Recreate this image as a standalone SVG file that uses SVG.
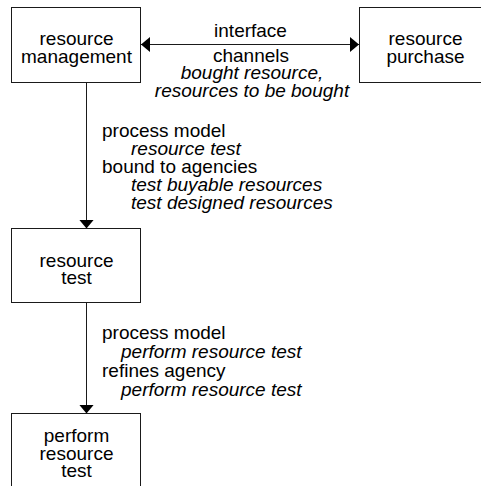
<svg xmlns="http://www.w3.org/2000/svg" width="481" height="486" viewBox="0 0 481 486">
  <style>
    .box { fill: #fff; stroke: #1a1a1a; stroke-width: 1; }
    .line { fill: none; stroke: #1a1a1a; stroke-width: 1; }
    text { font-family: "Liberation Sans", Arial, sans-serif; font-size: 19px; fill: #000; }
    .c { text-anchor: middle; }
    .i { font-style: italic; }
  </style>
  <defs>
    <marker id="arrow" viewBox="0 0 9 15" refX="9" refY="7.5" markerWidth="9" markerHeight="15" markerUnits="userSpaceOnUse" orient="auto-start-reverse">
      <path d="M0,0 L9,7.5 L0,15 Z" fill="#000"/>
    </marker>
  </defs>

  <rect width="481" height="486" fill="#fff"/>

  <g id="connectors">
    <line class="line" x1="141" y1="44.5" x2="359" y2="44.5" marker-start="url(#arrow)" marker-end="url(#arrow)"/>
    <line class="line" x1="86.5" y1="82.5" x2="86.5" y2="228.5" marker-end="url(#arrow)"/>
    <line class="line" x1="86.5" y1="302.5" x2="86.5" y2="413.5" marker-end="url(#arrow)"/>

    <g id="label-interface">
      <text class="c" x="250.5" y="37">interface</text>
      <text class="c" x="251" y="62">channels</text>
      <text class="c i" x="252" y="79">bought resource,</text>
      <text class="c i" x="252" y="97">resources to be bought</text>
    </g>
    <g id="label-test">
      <text x="102" y="137">process model</text>
      <text class="i" x="131" y="155">resource test</text>
      <text x="102" y="173">bound to agencies</text>
      <text class="i" x="131" y="191">test buyable resources</text>
      <text class="i" x="131" y="209">test designed resources</text>
    </g>
    <g id="label-perform">
      <text x="102" y="339">process model</text>
      <text class="i" x="121" y="358">perform resource test</text>
      <text x="102" y="377">refines agency</text>
      <text class="i" x="121" y="396">perform resource test</text>
    </g>
  </g>

  <g id="resource-management">
    <rect class="box" x="11.5" y="7.5" width="129" height="75"/>
    <text class="c" x="76.5" y="45">resource</text>
    <text class="c" x="76.5" y="63">management</text>
  </g>

  <g id="resource-purchase">
    <rect class="box" x="359.5" y="7.5" width="140" height="75"/>
    <text class="c" x="425.5" y="45">resource</text>
    <text class="c" x="425.5" y="63">purchase</text>
  </g>

  <g id="resource-test">
    <rect class="box" x="11.5" y="228.5" width="129" height="74"/>
    <text class="c" x="76.5" y="267">resource</text>
    <text class="c" x="76.5" y="284">test</text>
  </g>

  <g id="perform-resource-test">
    <rect class="box" x="11.5" y="413.5" width="129" height="90"/>
    <text class="c" x="76.5" y="442">perform</text>
    <text class="c" x="76.5" y="460">resource</text>
    <text class="c" x="76.5" y="477">test</text>
  </g>
</svg>
